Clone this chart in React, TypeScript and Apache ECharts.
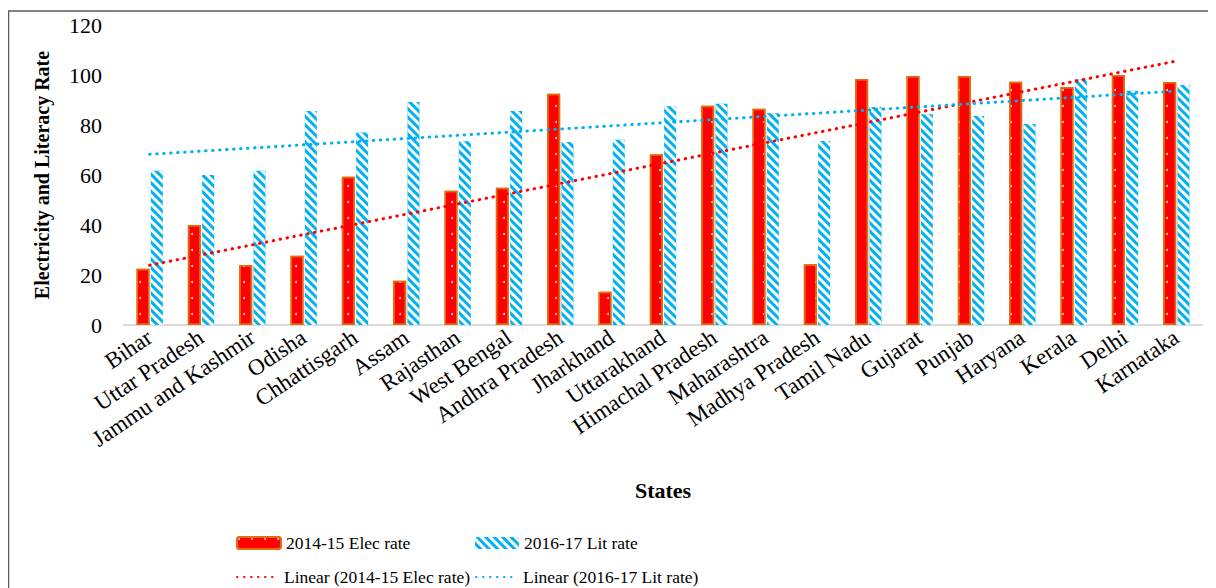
import React, { useEffect, useRef } from "react";
import * as echarts from "echarts";

const states = [
  "Bihar", "Uttar Pradesh", "Jammu and Kashmir", "Odisha", "Chhattisgarh", "Assam",
  "Rajasthan", "West Bengal", "Andhra Pradesh", "Jharkhand", "Uttarakhand",
  "Himachal Pradesh", "Maharashtra", "Madhya Pradesh", "Tamil Nadu", "Gujarat",
  "Punjab", "Haryana", "Kerala", "Delhi", "Karnataka",
];

const elecRate = [
  22.5, 40, 24, 27.7, 59.3, 17.7, 53.7, 54.9, 92.5, 13.3, 68.3,
  87.7, 86.5, 24.3, 98.4, 99.6, 99.6, 97.3, 95.2, 100, 97.2,
];

const litRate = [
  61.7, 60, 61.7, 85.6, 77, 89.2, 73.5, 85.6, 73.2, 74.1, 87.5,
  88.5, 84.7, 73.6, 87.2, 84.3, 83.6, 80.4, 98.3, 93.7, 96,
];

const yTicks = { min: 0, max: 120, interval: 20 };

// Least-squares trend line over the category index (1..n), like a spreadsheet "Linear" trendline
function linearTrend(values: number[]): number[] {
  const n = values.length;
  const xs = values.map((_, i) => i + 1);
  const mx = xs.reduce((a, b) => a + b, 0) / n;
  const my = values.reduce((a, b) => a + b, 0) / n;
  let num = 0;
  let den = 0;
  for (let i = 0; i < n; i++) {
    num += (xs[i] - mx) * (values[i] - my);
    den += (xs[i] - mx) * (xs[i] - mx);
  }
  const slope = num / den;
  const icpt = my - slope * mx;
  return xs.map((x) => +(icpt + slope * x).toFixed(3));
}

const SERIF = "Liberation Serif";

export default function App() {
  const ref = useRef<HTMLDivElement>(null);

  useEffect(() => {
    if (!ref.current) return;
    const chart = echarts.init(ref.current, undefined, { renderer: "svg" });

    const elecName = "2014-15 Elec rate";
    const litName = "2016-17 Lit rate";
    const elecTrendName = "Linear (2014-15 Elec rate)";
    const litTrendName = "Linear (2016-17 Lit rate)";

    const legendText = { fontFamily: SERIF, fontSize: 17.5, color: "#000" };
    const barLegend = { padding: 0, itemWidth: 44, itemHeight: 12, textStyle: legendText };
    const lineLegend = {
      padding: 0,
      itemWidth: 42,
      itemHeight: 12,
      textStyle: legendText,
      itemStyle: { opacity: 0 },
    };

    chart.setOption({
      animation: false,
      backgroundColor: "#fff",
      graphic: [
        {
          type: "rect",
          shape: { x: 0.5, y: 3, width: 1240, height: 620 },
          style: { fill: "none", stroke: "#595959", lineWidth: 1.5 },
          silent: true,
          z: -1,
        },
      ],
      grid: { left: 116, top: 17, width: 1078, height: 300, containLabel: false },
      legend: [
        { ...barLegend, data: [elecName], left: 228, top: 526 },
        { ...barLegend, data: [litName], left: 467, top: 526 },
        { ...lineLegend, data: [elecTrendName], left: 228, top: 560 },
        { ...lineLegend, data: [litTrendName], left: 467, top: 560 },
      ],
      xAxis: {
        type: "category",
        data: states,
        boundaryGap: true,
        axisLine: { show: true, lineStyle: { color: "#d9d9d9", width: 2 } },
        axisTick: { show: false },
        axisLabel: {
          rotate: 34,
          interval: 0,
          margin: 10,
          fontFamily: SERIF,
          fontSize: 23,
          color: "#000",
        },
        name: "States",
        nameLocation: "middle",
        nameGap: 154,
        nameTextStyle: { fontFamily: SERIF, fontSize: 22, fontWeight: "bold", color: "#000" },
      },
      yAxis: {
        type: "value",
        min: yTicks.min,
        max: yTicks.max,
        interval: yTicks.interval,
        axisLine: { show: false },
        axisTick: { show: false },
        splitLine: { show: false },
        axisLabel: { margin: 22, fontFamily: SERIF, fontSize: 22, color: "#000" },
        name: "Electricity and Literacy Rate",
        nameLocation: "middle",
        nameGap: 72,
        nameTextStyle: { fontFamily: SERIF, fontSize: 20, fontWeight: "bold", color: "#000" },
      },
      series: [
        {
          name: elecName,
          type: "bar",
          data: elecRate,
          barWidth: 13,
          barGap: "10%",
          itemStyle: {
            color: "#ff0000",
            borderColor: "#e46c0a",
            borderWidth: 1.5,
            decal: {
              symbol: "circle",
              symbolSize: 0.5,
              color: "rgba(255,255,255,0.9)",
              dashArrayX: [4, 9],
              dashArrayY: [4, 12],
            },
          },
          z: 2,
        },
        {
          name: litName,
          type: "bar",
          data: litRate,
          barWidth: 12,
          itemStyle: {
            color: "#00b0f0",
            decal: {
              symbol: "rect",
              symbolSize: 1,
              color: "#ffffff",
              dashArrayX: [1, 0],
              dashArrayY: [2.5, 2.5],
              rotation: Math.PI / 4,
            },
          },
          z: 2,
        },
        {
          name: elecTrendName,
          type: "line",
          data: linearTrend(elecRate),
          symbol: "none",
          lineStyle: { color: "#ff0000", width: 3, type: [0.5, 6.5], cap: "round" },
          itemStyle: { color: "#ff0000" },
          z: 5,
        },
        {
          name: litTrendName,
          type: "line",
          data: linearTrend(litRate),
          symbol: "none",
          lineStyle: { color: "#00b0f0", width: 3, type: [0.5, 6.5], cap: "round" },
          itemStyle: { color: "#00b0f0" },
          z: 5,
        },
      ],
    });

    return () => chart.dispose();
  }, []);

  return <div ref={ref} style={{ width: 1208, height: 580 }} />;
}
